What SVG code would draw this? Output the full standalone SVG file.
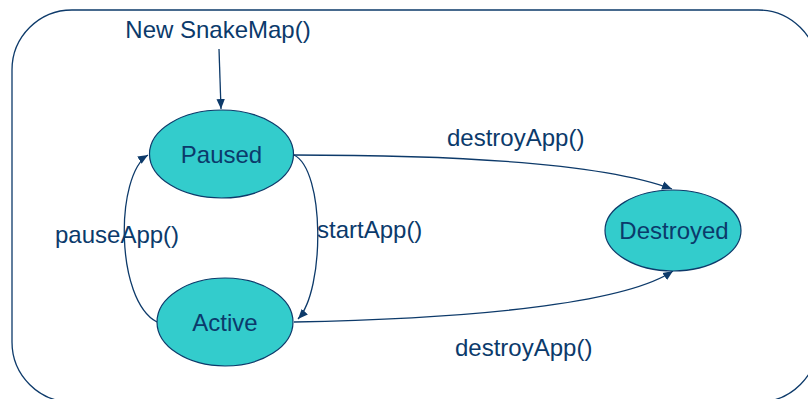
<svg xmlns="http://www.w3.org/2000/svg" width="808" height="399" viewBox="0 0 808 399">
  <style>
    .state { fill: #33cccc; stroke: #0d3a6a; stroke-width: 1.2; }
    .lbl { font-family: "Liberation Sans", Arial, sans-serif; font-size: 24px; fill: #0b3a6b; }
    .mid { text-anchor: middle; }
    .edge { fill: none; stroke: #0d3a6a; stroke-width: 1.3; }
    .frame { fill: none; stroke: #0d3a6a; stroke-width: 1.3; }
  </style>
  <defs>
    <marker id="arrow" markerUnits="userSpaceOnUse" markerWidth="10" markerHeight="10" viewBox="0 0 10 10" refX="10" refY="5" orient="auto">
      <path d="M0,0.8 L10,5 L0,9.2 Z" fill="#0d3a6a"/>
    </marker>
  </defs>

  <!-- outer boundary -->
  <rect class="frame" x="12" y="10" width="806" height="392" rx="60" ry="60"/>

  <!-- transitions -->
  <g id="connectors">
    <path class="edge" d="M219,49 L221,109" marker-end="url(#arrow)"/>
    <path class="edge" d="M157,322 C115,300 115,175 148,155" marker-end="url(#arrow)"/>
    <path class="edge" d="M294,155 C325,170 325,290 298,319" marker-end="url(#arrow)"/>
    <path class="edge" d="M293,155 C450,155 600,162 672,189" marker-end="url(#arrow)"/>
    <path class="edge" d="M294,322 C500,318 630,300 673,271" marker-end="url(#arrow)"/>
    <text class="lbl mid" x="218" y="38">New SnakeMap()</text>
    <text class="lbl" x="55" y="243">pauseApp()</text>
    <text class="lbl" x="317" y="238">startApp()</text>
    <text class="lbl" x="447" y="146">destroyApp()</text>
    <text class="lbl" x="455" y="356">destroyApp()</text>
  </g>

  <g id="paused">
    <ellipse class="state" cx="221.5" cy="154" rx="72" ry="44"/>
    <text class="lbl mid" x="221.5" y="163">Paused</text>
  </g>

  <g id="active">
    <ellipse class="state" cx="225" cy="322" rx="68" ry="44"/>
    <text class="lbl mid" x="225" y="331">Active</text>
  </g>

  <g id="destroyed">
    <ellipse class="state" cx="673" cy="230.5" rx="68" ry="40.5"/>
    <text class="lbl mid" x="674" y="239">Destroyed</text>
  </g>
</svg>
